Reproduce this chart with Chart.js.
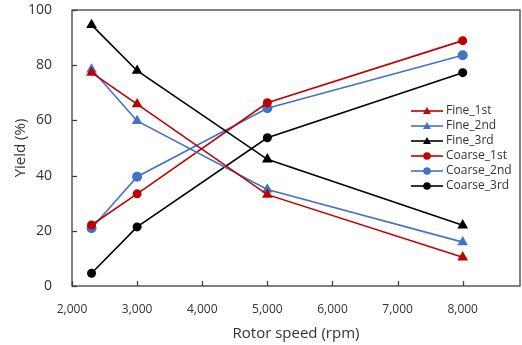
<!DOCTYPE html>
<html>
<head>
<meta charset="utf-8">
<script src="https://cdn.jsdelivr.net/npm/chart.js@4"></script>
<style>
  html, body { margin: 0; padding: 0; background: #fff; }
  #wrap { width: 522px; height: 345px; }
</style>
</head>
<body>
<div id="wrap"><canvas id="grafico" width="522" height="345"></canvas></div>
<script>
// rotor speed (rpm)
const rpm = [2300, 3000, 5000, 8000];
const fine1 = [77.3, 65.9, 33.1, 10.4];
const fine2 = [78.5, 59.8, 35.0, 15.9];
const fine3 = [94.6, 78.0, 45.9, 22.0];
const coarse1 = [22.1, 33.4, 66.4, 88.9];
const coarse2 = [20.9, 39.6, 64.4, 83.6];
const coarse3 = [4.6, 21.4, 53.7, 77.3];
const nomes = ["Fine_1st", "Fine_2nd", "Fine_3rd", "Coarse_1st", "Coarse_2nd", "Coarse_3rd"];
const ticksX = [2000, 3000, 4000, 5000, 6000, 7000, 8000];
const ticksY = [0, 20, 40, 60, 80, 100];

const vermelho = "#c00000";
const azul = "#4472c4";
const preto = "#000000";
const fonte = "'Open Sans', 'DejaVu Sans', sans-serif";

function serie(label, vals, cor, estilo, raio) {
  return {
    label: label,
    data: rpm.map((x, i) => ({ x: x, y: vals[i] })),
    borderColor: cor,
    backgroundColor: cor,
    borderWidth: 1.6,
    pointStyle: estilo,
    pointRadius: raio,
    pointHoverRadius: raio,
    pointBorderWidth: 0,
    tension: 0
  };
}

const datasets = [
  serie(nomes[0], fine1, vermelho, "triangle", 6.2),
  serie(nomes[1], fine2, azul, "triangle", 6.2),
  serie(nomes[2], fine3, preto, "triangle", 6.2),
  serie(nomes[3], coarse1, vermelho, "circle", 4.5),
  serie(nomes[4], coarse2, azul, "circle", 5),
  serie(nomes[5], coarse3, preto, "circle", 4.5)
];

// moldura, marcas internas dos eixos e legenda dentro do grafico
const extras = {
  id: "extras",
  afterDatasetsDraw(chart) {
    const ctx = chart.ctx;
    const a = chart.chartArea;
    const xs = chart.scales.x;
    const ys = chart.scales.y;
    ctx.save();
    ctx.strokeStyle = "#404040";
    ctx.lineWidth = 1.3;
    ctx.strokeRect(a.left, a.top, a.right - a.left, a.bottom - a.top);
    ticksX.forEach(v => {
      const px = Math.round(xs.getPixelForValue(v)) + 0.5;
      ctx.beginPath();
      ctx.moveTo(px, a.bottom);
      ctx.lineTo(px, a.bottom - 5);
      ctx.stroke();
    });
    ticksY.forEach(v => {
      const py = Math.round(ys.getPixelForValue(v)) + 0.5;
      ctx.beginPath();
      ctx.moveTo(a.left, py);
      ctx.lineTo(a.left + 5, py);
      ctx.stroke();
    });

    const x0 = 411, x1 = 443, y0 = 111, passo = 15;
    ctx.font = "12px " + fonte;
    ctx.textBaseline = "middle";
    chart.data.datasets.forEach((ds, i) => {
      const y = y0 + i * passo;
      ctx.strokeStyle = ds.borderColor;
      ctx.fillStyle = ds.borderColor;
      ctx.lineWidth = 1.6;
      ctx.beginPath();
      ctx.moveTo(x0, y);
      ctx.lineTo(x1, y);
      ctx.stroke();
      const cx = (x0 + x1) / 2;
      ctx.beginPath();
      if (ds.pointStyle === "triangle") {
        ctx.moveTo(cx, y - 4);
        ctx.lineTo(cx + 4, y + 3);
        ctx.lineTo(cx - 4, y + 3);
        ctx.closePath();
      } else {
        ctx.arc(cx, y, 3.8, 0, Math.PI * 2);
      }
      ctx.fill();
      ctx.fillStyle = "#333";
      ctx.fillText(ds.label, x1 + 3, y);
    });
    ctx.restore();
  }
};

new Chart(document.getElementById("grafico").getContext("2d"), {
  type: "line",
  data: { datasets: datasets },
  plugins: [extras],
  options: {
    responsive: false,
    animation: false,
    layout: { autoPadding: false, padding: { top: 10, right: 2, left: 0, bottom: 0 } },
    plugins: { legend: { display: false }, tooltip: { enabled: false } },
    scales: {
      x: {
        type: "linear",
        min: 2000,
        max: 8880,
        grid: { display: false },
        border: { display: false },
        afterBuildTicks: s => { s.ticks = ticksX.map(v => ({ value: v })); },
        afterFit: s => { s.height = 59; s.paddingLeft = 0; s.paddingRight = 0; },
        ticks: {
          autoSkip: false,
          padding: 8,
          maxRotation: 0,
          color: "#333",
          font: { family: fonte, size: 12 },
          callback: v => v.toLocaleString("en-US")
        },
        title: {
          display: true,
          text: "Rotor speed (rpm)",
          color: "#333",
          font: { family: fonte, size: 15 },
          padding: { top: 0, bottom: 2 }
        }
      },
      y: {
        min: 0,
        max: 100,
        grid: { display: false },
        border: { display: false },
        afterBuildTicks: s => { s.ticks = ticksY.map(v => ({ value: v })); },
        afterFit: s => { s.width = 72; s.paddingTop = 0; s.paddingBottom = 0; },
        ticks: {
          padding: 12,
          color: "#333",
          font: { family: fonte, size: 14 }
        },
        title: {
          display: true,
          text: "Yield (%)",
          color: "#333",
          font: { family: fonte, size: 15 },
          padding: { top: 12, bottom: 0 }
        }
      }
    }
  }
});
</script>
</body>
</html>
